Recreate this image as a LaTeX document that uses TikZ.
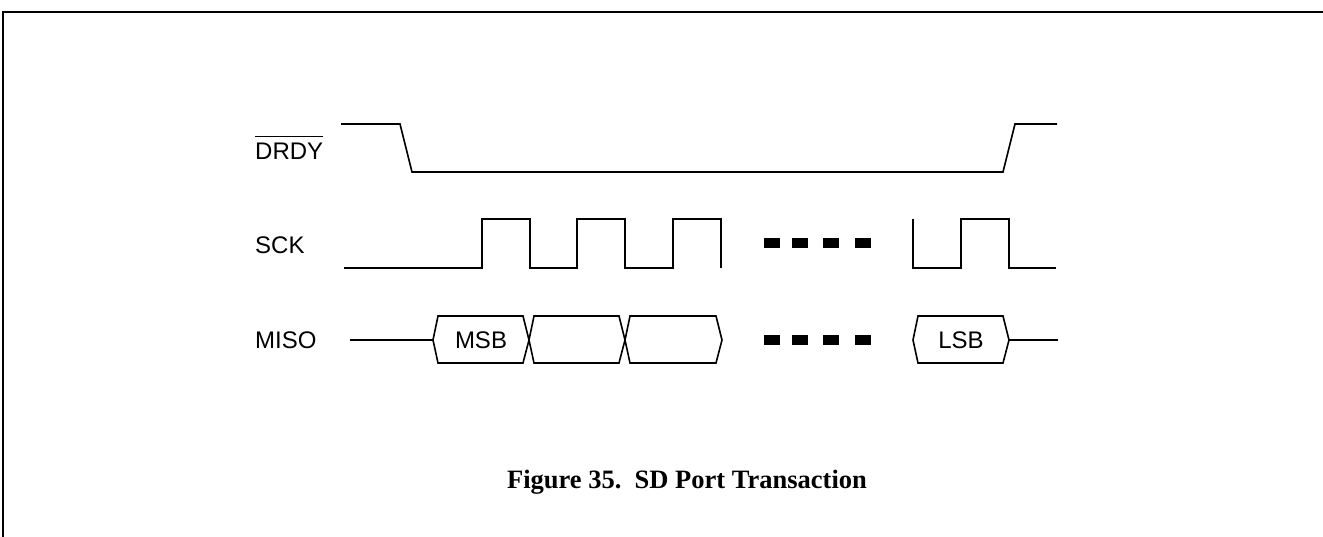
\documentclass[tikz,border=0pt]{standalone}
\usepackage{fontspec}
\setmainfont{Liberation Serif}
\setsansfont{Liberation Sans}
\usepackage{tikz}
\usetikzlibrary{calc}
\usetikzlibrary{positioning}

\begin{document}
\begin{tikzpicture}[x=1pt,y=-1pt]
  % some styles
  \tikzset{
    sig/.style={line width=1.6pt,line join=miter},
    lbl/.style={font=\sffamily\fontsize{24}{28}\selectfont,anchor=west,inner sep=0pt},
    bit/.style={font=\sffamily\fontsize{24}{28}\selectfont,inner sep=0pt}
  }
 \tikzset{blob/.style={fill=black,draw=none}}

\useasboundingbox (0,0) rectangle (1323,537);
% frame
\draw[line width=2.2pt] (3,537) -- (3,12) -- (1323,12);

% signal names
\node[lbl] (drdy) at (255,151) {DRDY};
\draw[line width=1.5pt] ([yshift=6pt]drdy.north west) -- ([yshift=6pt]drdy.north east);
\node[lbl] (sck) at (255,245) {SCK};
\node[lbl] (miso) at (255,340) {MISO};

% DRDY
\draw[sig] (341,124) -- (400,124) -- (412,172) -- (1003,172) -- (1015,124) -- (1057,124);

% SCK
\draw[sig] (344,268) foreach \r in {482,577,673} { -- (\r,268) |- (\r+48,219) -- (\r+48,268) };
\draw[sig] (913,219) -- (913,268) -- (961,268) -- (961,219) -- (1009,219) -- (1009,268) -- (1056,268);

% MISO
\draw[sig] (350,340) -- (433,340);
\foreach \a/\b/\t/\n in {433/529/MSB/msb, 529/625/{}/b1, 625/722/{}/b2, 913/1009/LSB/lsb} {
   \draw[sig] (\a,340) -- (\a+5,316) -- (\b-6,316) -- (\b,340) -- (\b-6,363) -- (\a+5,363) -- cycle;
   \node[bit] (\n) at ({(\a+\b)/2},340) {\t};
}
\draw[sig] (1009,340) -- (1058,340);

% skipped bits
\foreach \d in {764,792,823,855} {
    \fill[blob] (\d,238) rectangle ++(16,10);
    \fill[blob] (\d,335) rectangle ++(16,10);
}

\node[font=\bfseries\fontsize{26.5}{30}\selectfont,anchor=base] (caption) at (687,488) {Figure 35.\ \ SD Port Transaction};

\end{tikzpicture}
\end{document}
